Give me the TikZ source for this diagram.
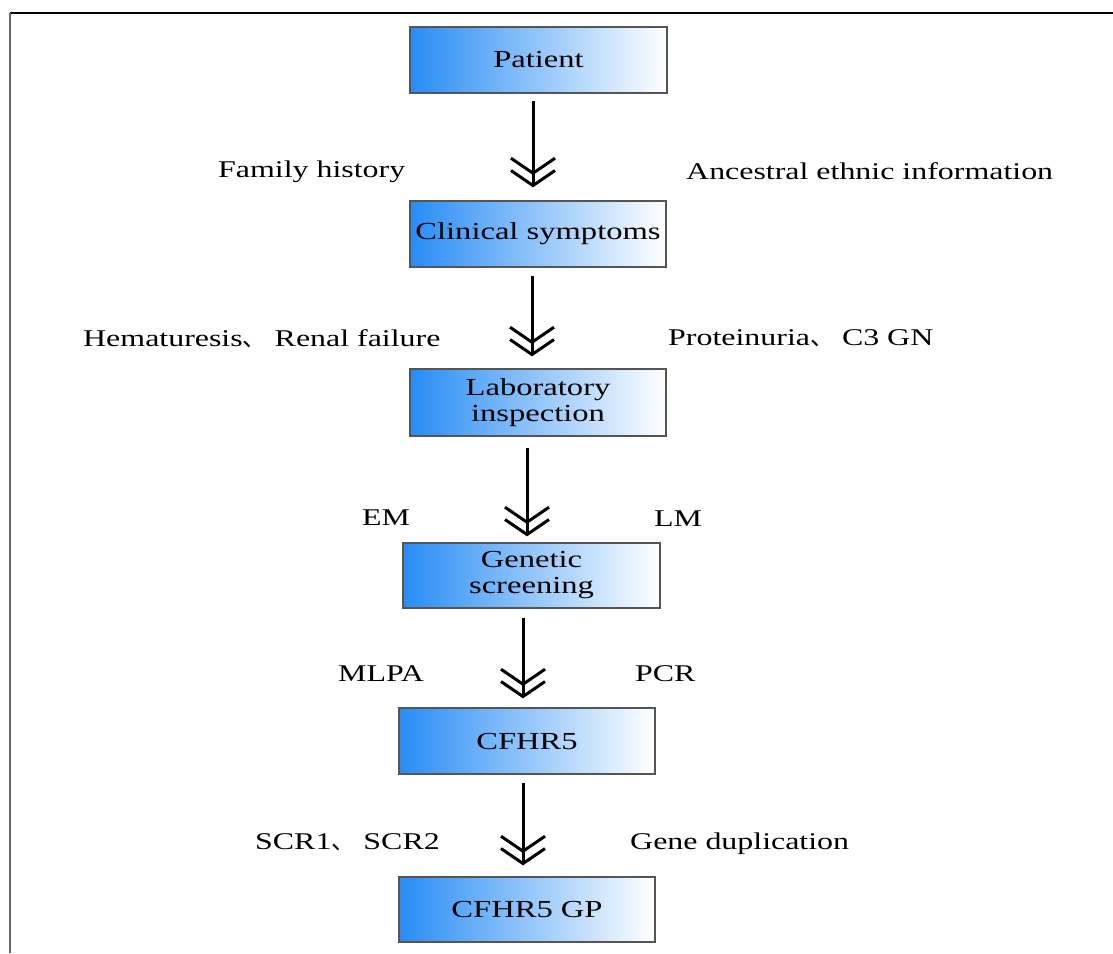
\documentclass[tikz,border=0pt]{standalone}
\usepackage{fontspec}
\setmainfont{Liberation Serif}[FakeStretch=1.33]
\newfontfamily\cjk{Noto Sans CJK SC}
\usetikzlibrary{arrows.meta}
\definecolor{boxblue}{RGB}{40,140,245}
\definecolor{boxedge}{RGB}{85,85,85}
\newcommand{\dun}{{\cjk 、}}
\tikzset{
  stepbox/.style={draw=boxedge, line width=1.3pt, left color=boxblue, right color=white,
    shading angle=90, minimum width=256pt, minimum height=66pt, align=center,
    font=\fontsize{24.5}{26}\selectfont, inner sep=0pt},
  flow/.style={line width=3pt, line cap=butt,
    -{Straight Barb[length=15pt,width=44pt,line width=3pt,sep=-6pt]Straight Barb[length=15pt,width=44pt,line width=3pt]}},
  lbl/.style={anchor=base west, inner sep=0pt, font=\fontsize{24}{26}\selectfont}
}
\begin{document}
\begin{tikzpicture}[x=1pt,y=-1pt]
\useasboundingbox (0,0) rectangle (1113,953);
% frame
\draw[line width=2pt, color=black] (10,13) coordinate (tl) -- (1113,13) coordinate (tr);
\draw[line width=2pt, color=black!60] (tl) -- (10,953) coordinate (bl);
% boxes
\node[stepbox, minimum width=257pt] (b1) at (538.5,60) {Patient};
\node[stepbox] (b2) at (538,234) {Clinical symptoms};
\node[stepbox, minimum height=67pt] (b3) at (538,402.5) {Laboratory\\inspection};
\node[stepbox, minimum width=257pt, minimum height=65pt] (b4) at (531.5,575.5) {Genetic\\screening};
\node[stepbox] (b5) at (527,741) {CFHR5};
\node[stepbox, minimum height=65pt] (b6) at (527,909.5) {CFHR5 GP};
% arrow axes
\coordinate (x1) at (533,0);
\coordinate (x2) at (532,0);
\coordinate (x3) at (527,0);
\coordinate (x4) at (523,0);
\coordinate (x5) at (523,0);
% arrows
\draw[flow, shorten <=7pt, shorten >=13pt] (b1.south -| x1) -- (b2.north -| x1);
\draw[flow, shorten <=8pt, shorten >=12pt] (b2.south -| x2) -- (b3.north -| x2);
\draw[flow, shorten <=11pt, shorten >=6pt] (b3.south -| x3) -- (b4.north -| x3);
\draw[flow, shorten <=9pt, shorten >=9pt] (b4.south -| x4) -- (b5.north -| x4);
\draw[flow, shorten <=8pt, shorten >=11pt] (b5.south -| x5) -- (b6.north -| x5);
% labels
\node[lbl] (l1a) at (218,177) {Family history};
\node[lbl] (l1b) at (686,179) {Ancestral ethnic information};
\node[lbl] (l2a) at (83,346) {Hematuresis\dun\ Renal failure};
\node[lbl] (l2b) at (668,345) {Proteinuria\dun\ C3 GN};
\node[lbl] (l3a) at (362,525) {EM};
\node[lbl] (l3b) at (654,526) {LM};
\node[lbl] (l4a) at (338,681) {MLPA};
\node[lbl] (l4b) at (635,681) {PCR};
\node[lbl] (l5a) at (255,849) {SCR1\dun\ SCR2};
\node[lbl] (l5b) at (630,849) {Gene duplication};
\end{tikzpicture}
\end{document}
